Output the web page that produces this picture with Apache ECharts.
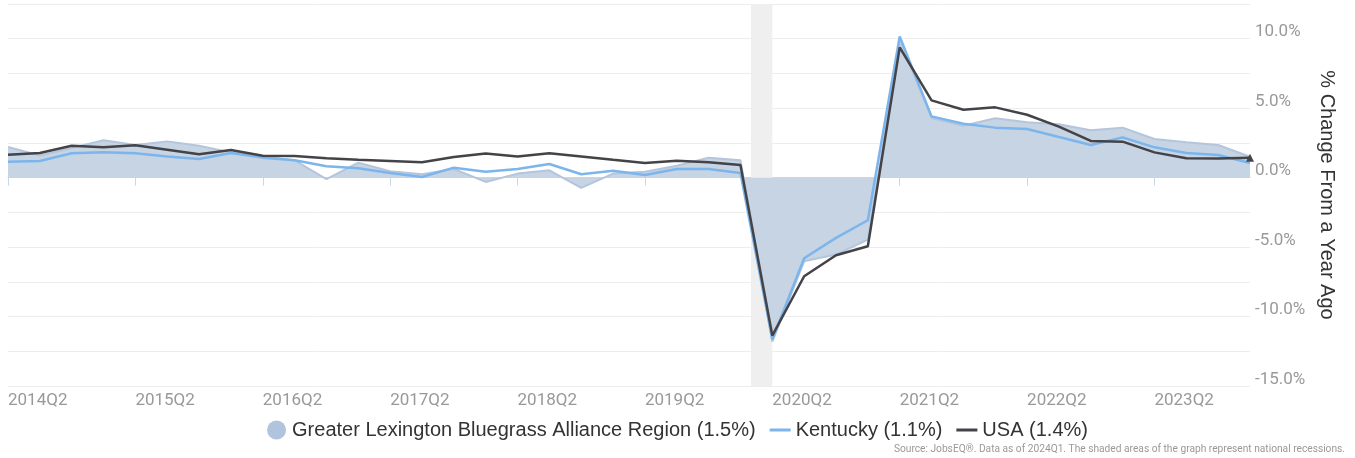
<!DOCTYPE html>
<html>
<head>
<meta charset="utf-8">
<script src="https://cdn.jsdelivr.net/npm/echarts@6/dist/echarts.min.js"></script>
<style>
html, body { margin: 0; padding: 0; background: #fff; }
#chart { width: 1355px; height: 458px; }
</style>
</head>
<body>
<div id="chart"></div>
<script>
// quarters 2014Q2 .. 2024Q1
var quarters = [];
for (var y = 2014; y <= 2024; y++) {
    for (var q = 1; q <= 4; q++) {
        if ((y === 2014 && q < 2) || (y === 2024 && q > 1)) continue;
        quarters.push(y + 'Q' + q);
    }
}

var regionValues = [2.2, 1.6, 2.13, 2.69, 2.35, 2.61, 2.30, 1.82, 1.53, 1.25, -0.1, 1.08, 0.46, 0.24, 0.62,
    -0.31, 0.29, 0.53, -0.74, 0.29, 0.43, 0.86, 1.44, 1.25,
    -11.8, -6.02, -5.54, -4.46,
    9.9, 4.29, 3.74, 4.27, 3.98, 3.84, 3.41, 3.60, 2.78, 2.54, 2.35, 1.5];

var kentuckyValues = [1.15, 1.20, 1.75, 1.82, 1.75, 1.53, 1.34, 1.77, 1.44, 1.25, 0.82, 0.67, 0.34, 0.05, 0.72,
    0.43, 0.62, 0.98, 0.24, 0.50, 0.19, 0.62, 0.62, 0.34,
    -11.65, -5.80, -4.34, -3.07,
    10.17, 4.41, 3.88, 3.60, 3.50, 2.93, 2.35, 2.90, 2.18, 1.77, 1.63, 1.06];

var usaValues = [1.65, 1.77, 2.30, 2.18, 2.33, 2.01, 1.68, 1.99, 1.58, 1.56, 1.39, 1.29, 1.20, 1.10, 1.49,
    1.73, 1.53, 1.75, 1.53, 1.29, 1.06, 1.22, 1.10, 0.91,
    -11.37, -7.10, -5.59, -4.94,
    9.38, 5.56, 4.89, 5.06, 4.53, 3.67, 2.64, 2.59, 1.82, 1.39, 1.37, 1.44];

// recession span in quarter-index units
var recession = [23.33, 24];

var seriesNames = ['Greater Lexington Bluegrass Alliance Region (1.5%)', 'Kentucky (1.1%)', 'USA (1.4%)'];

var usaData = usaValues.map(function (v, i) {
    if (i === usaValues.length - 1) {
        return { value: v, symbol: 'triangle', symbolSize: 8, itemStyle: { color: '#434348' } };
    }
    return v;
});

var lineIcon = 'path://M0,0 L21,0 L21,3 L0,3 Z';

var myChart = echarts.init(document.getElementById('chart'));
var option = {
    animation: false,
    textStyle: { fontFamily: 'Roboto' },
    grid: { left: 8, right: 105, top: 4, bottom: 72 },
    legend: {
        data: [
            { name: seriesNames[0], icon: 'circle', itemStyle: { color: '#b0c4de' } },
            { name: seriesNames[1], icon: lineIcon, itemStyle: { color: '#7cb5ec' } },
            { name: seriesNames[2], icon: lineIcon, itemStyle: { color: '#434348' } }
        ],
        left: 'center',
        top: 415,
        itemWidth: 21,
        itemHeight: 19,
        itemGap: 14,
        textStyle: { fontSize: 20, color: '#333', fontFamily: 'Liberation Sans' }
    },
    graphic: [{
        type: 'text',
        right: 10,
        top: 444,
        style: {
            text: 'Source: JobsEQ®. Data as of 2024Q1. The shaded areas of the graph represent national recessions.',
            fontSize: 10.2,
            fill: '#999',
            fontFamily: 'Roboto'
        }
    }],
    xAxis: [{
        type: 'category',
        data: quarters,
        boundaryGap: false,
        axisLine: { lineStyle: { color: '#ccd6eb' } },
        axisTick: { interval: 3, length: 8, lineStyle: { color: '#ccd6eb' } },
        axisLabel: { interval: 3, align: 'left', margin: 6, fontSize: 17, color: '#999' },
        splitLine: { show: false }
    }, {
        type: 'value',
        min: 0,
        max: quarters.length - 1,
        show: false
    }],
    yAxis: {
        type: 'value',
        position: 'right',
        min: -15,
        max: 12.5,
        interval: 2.5,
        name: '% Change From a Year Ago',
        nameLocation: 'middle',
        nameRotate: -90,
        nameGap: 57,
        nameTextStyle: { fontSize: 20, color: '#333', fontFamily: 'Liberation Sans' },
        axisLine: { show: false },
        axisTick: { show: false },
        splitLine: { lineStyle: { color: '#ededed' } },
        axisLabel: {
            margin: 5,
            fontSize: 17,
            lineHeight: 13,
            color: '#999',
            verticalAlign: 'bottom',
            formatter: function (v) {
                return (Math.abs(v % 5) < 1e-9) ? v.toFixed(1) + '%' : '';
            }
        }
    },
    series: [{
        name: 'recession',
        type: 'line',
        xAxisIndex: 1,
        data: [],
        silent: true,
        markArea: {
            silent: true,
            itemStyle: { color: '#efefef' },
            data: [[{ xAxis: recession[0] }, { xAxis: recession[1] }]]
        }
    }, {
        name: seriesNames[0],
        type: 'line',
        data: regionValues,
        symbol: 'none',
        lineStyle: { color: '#b4c5dc', width: 2 },
        itemStyle: { color: '#b0c4de' },
        areaStyle: { color: '#c6d4e4', opacity: 1 }
    }, {
        name: seriesNames[1],
        type: 'line',
        data: kentuckyValues,
        symbol: 'none',
        lineStyle: { color: '#7cb5ec', width: 2.5 },
        itemStyle: { color: '#7cb5ec' }
    }, {
        name: seriesNames[2],
        type: 'line',
        data: usaData,
        symbol: 'none',
        lineStyle: { color: '#434348', width: 2.5 },
        itemStyle: { color: '#434348' }
    }]
};
myChart.setOption(option, true);
</script>
</body>
</html>
